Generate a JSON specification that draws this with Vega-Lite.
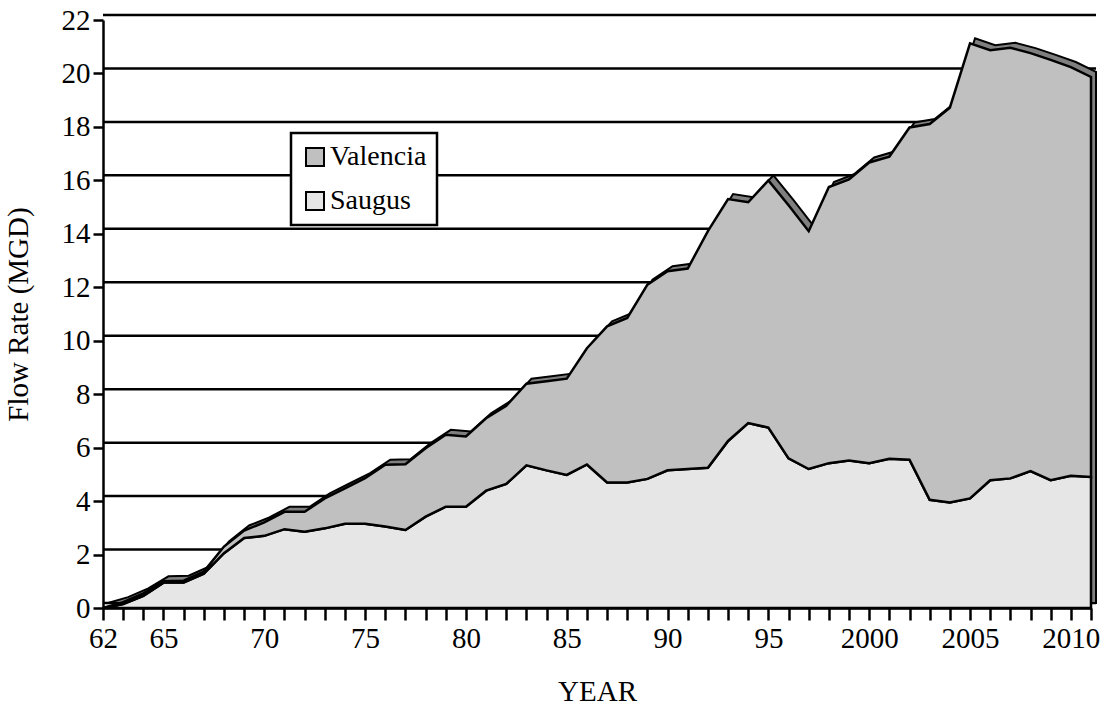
{
  "$schema": "https://vega.github.io/schema/vega-lite/v6.json",
  "width": 988,
  "height": 588,
  "autosize": {"type": "none"},
  "padding": {"left": 103, "top": 20, "right": 13, "bottom": 102},
  "background": "white",
  "config": {
    "view": {"stroke": null},
    "font": "Liberation Serif",
    "axis": {
      "grid": false, "domainColor": "black", "domainWidth": 2.5, "tickColor": "black", "tickWidth": 2.5,
      "labelFont": "Liberation Serif", "labelFontSize": 29, "labelColor": "black",
      "titleFont": "Liberation Serif", "titleFontSize": 29, "titleFontWeight": "normal", "titleColor": "black"
    },
    "axisX": {"labelOverlap": false, "labelFlush": false, "labelBound": false, "tickSize": 12, "labelPadding": 4, "titlePadding": 24},
    "axisY": {"tickSize": 10, "labelPadding": 3, "titlePadding": 28}
  },
  "datasets": {
    "grid": [{"v": 0}, {"v": 2}, {"v": 4}, {"v": 6}, {"v": 8}, {"v": 10}, {"v": 12}, {"v": 14}, {"v": 16}, {"v": 18}, {"v": 20}, {"v": 22}],
    "flow": [
      {"year": 1962, "series": "Saugus", "value": 0}, {"year": 1962, "series": "Valencia", "value": 0},
      {"year": 1963, "series": "Saugus", "value": 0.15}, {"year": 1963, "series": "Valencia", "value": 0.07},
      {"year": 1964, "series": "Saugus", "value": 0.45}, {"year": 1964, "series": "Valencia", "value": 0.10},
      {"year": 1965, "series": "Saugus", "value": 0.95}, {"year": 1965, "series": "Valencia", "value": 0.05},
      {"year": 1966, "series": "Saugus", "value": 0.95}, {"year": 1966, "series": "Valencia", "value": 0.07},
      {"year": 1967, "series": "Saugus", "value": 1.28}, {"year": 1967, "series": "Valencia", "value": 0.08},
      {"year": 1968, "series": "Saugus", "value": 2.05}, {"year": 1968, "series": "Valencia", "value": 0.25},
      {"year": 1969, "series": "Saugus", "value": 2.62}, {"year": 1969, "series": "Valencia", "value": 0.28},
      {"year": 1970, "series": "Saugus", "value": 2.70}, {"year": 1970, "series": "Valencia", "value": 0.50},
      {"year": 1971, "series": "Saugus", "value": 2.95}, {"year": 1971, "series": "Valencia", "value": 0.65},
      {"year": 1972, "series": "Saugus", "value": 2.85}, {"year": 1972, "series": "Valencia", "value": 0.75},
      {"year": 1973, "series": "Saugus", "value": 2.98}, {"year": 1973, "series": "Valencia", "value": 1.12},
      {"year": 1974, "series": "Saugus", "value": 3.15}, {"year": 1974, "series": "Valencia", "value": 1.33},
      {"year": 1975, "series": "Saugus", "value": 3.15}, {"year": 1975, "series": "Valencia", "value": 1.71},
      {"year": 1976, "series": "Saugus", "value": 3.05}, {"year": 1976, "series": "Valencia", "value": 2.31},
      {"year": 1977, "series": "Saugus", "value": 2.92}, {"year": 1977, "series": "Valencia", "value": 2.46},
      {"year": 1978, "series": "Saugus", "value": 3.42}, {"year": 1978, "series": "Valencia", "value": 2.56},
      {"year": 1979, "series": "Saugus", "value": 3.79}, {"year": 1979, "series": "Valencia", "value": 2.69},
      {"year": 1980, "series": "Saugus", "value": 3.79}, {"year": 1980, "series": "Valencia", "value": 2.63},
      {"year": 1981, "series": "Saugus", "value": 4.39}, {"year": 1981, "series": "Valencia", "value": 2.71},
      {"year": 1982, "series": "Saugus", "value": 4.64}, {"year": 1982, "series": "Valencia", "value": 2.93},
      {"year": 1983, "series": "Saugus", "value": 5.34}, {"year": 1983, "series": "Valencia", "value": 3.05},
      {"year": 1984, "series": "Saugus", "value": 5.15}, {"year": 1984, "series": "Valencia", "value": 3.33},
      {"year": 1985, "series": "Saugus", "value": 4.98}, {"year": 1985, "series": "Valencia", "value": 3.60},
      {"year": 1986, "series": "Saugus", "value": 5.37}, {"year": 1986, "series": "Valencia", "value": 4.35},
      {"year": 1987, "series": "Saugus", "value": 4.70}, {"year": 1987, "series": "Valencia", "value": 5.84},
      {"year": 1988, "series": "Saugus", "value": 4.70}, {"year": 1988, "series": "Valencia", "value": 6.15},
      {"year": 1989, "series": "Saugus", "value": 4.83}, {"year": 1989, "series": "Valencia", "value": 7.27},
      {"year": 1990, "series": "Saugus", "value": 5.15}, {"year": 1990, "series": "Valencia", "value": 7.45},
      {"year": 1991, "series": "Saugus", "value": 5.20}, {"year": 1991, "series": "Valencia", "value": 7.50},
      {"year": 1992, "series": "Saugus", "value": 5.25}, {"year": 1992, "series": "Valencia", "value": 8.85},
      {"year": 1993, "series": "Saugus", "value": 6.25}, {"year": 1993, "series": "Valencia", "value": 9.05},
      {"year": 1994, "series": "Saugus", "value": 6.92}, {"year": 1994, "series": "Valencia", "value": 8.26},
      {"year": 1995, "series": "Saugus", "value": 6.75}, {"year": 1995, "series": "Valencia", "value": 9.25},
      {"year": 1996, "series": "Saugus", "value": 5.60}, {"year": 1996, "series": "Valencia", "value": 9.47},
      {"year": 1997, "series": "Saugus", "value": 5.20}, {"year": 1997, "series": "Valencia", "value": 8.90},
      {"year": 1998, "series": "Saugus", "value": 5.42}, {"year": 1998, "series": "Valencia", "value": 10.33},
      {"year": 1999, "series": "Saugus", "value": 5.52}, {"year": 1999, "series": "Valencia", "value": 10.52},
      {"year": 2000, "series": "Saugus", "value": 5.42}, {"year": 2000, "series": "Valencia", "value": 11.25},
      {"year": 2001, "series": "Saugus", "value": 5.58}, {"year": 2001, "series": "Valencia", "value": 11.31},
      {"year": 2002, "series": "Saugus", "value": 5.55}, {"year": 2002, "series": "Valencia", "value": 12.43},
      {"year": 2003, "series": "Saugus", "value": 4.05}, {"year": 2003, "series": "Valencia", "value": 14.06},
      {"year": 2004, "series": "Saugus", "value": 3.95}, {"year": 2004, "series": "Valencia", "value": 14.77},
      {"year": 2005, "series": "Saugus", "value": 4.10}, {"year": 2005, "series": "Valencia", "value": 17.03},
      {"year": 2006, "series": "Saugus", "value": 4.78}, {"year": 2006, "series": "Valencia", "value": 16.09},
      {"year": 2007, "series": "Saugus", "value": 4.85}, {"year": 2007, "series": "Valencia", "value": 16.11},
      {"year": 2008, "series": "Saugus", "value": 5.12}, {"year": 2008, "series": "Valencia", "value": 15.64},
      {"year": 2009, "series": "Saugus", "value": 4.78}, {"year": 2009, "series": "Valencia", "value": 15.73},
      {"year": 2010, "series": "Saugus", "value": 4.95}, {"year": 2010, "series": "Valencia", "value": 15.29},
      {"year": 2011, "series": "Saugus", "value": 4.90}, {"year": 2011, "series": "Valencia", "value": 14.97}
    ]
  },
  "layer": [
    {
      "data": {"name": "grid"},
      "mark": {"type": "rule", "color": "black", "strokeWidth": 2.5, "xOffset": 5, "yOffset": -5},
      "encoding": {
        "y": {
          "field": "v", "type": "quantitative",
          "scale": {"domain": [0, 22], "nice": false, "zero": true},
          "axis": {"values": [0, 2, 4, 6, 8, 10, 12, 14, 16, 18, 20, 22], "title": "Flow Rate (MGD)"}
        }
      }
    },
    {
      "data": {"name": "flow"},
      "transform": [
        {"stack": "value", "groupby": ["year"], "sort": [{"field": "series", "order": "ascending"}], "as": ["y0", "y1"]},
        {"filter": "datum.series === 'Valencia'"}
      ],
      "mark": {"type": "area", "fill": "#7f7f7f", "stroke": "black", "strokeWidth": 2, "xOffset": 5, "yOffset": -5, "y2Offset": -5},
      "encoding": {
        "x": {
          "field": "year", "type": "quantitative",
          "scale": {"domain": [1962, 2011], "nice": false, "zero": false},
          "axis": {
            "values": [1962, 1963, 1964, 1965, 1966, 1967, 1968, 1969, 1970, 1971, 1972, 1973, 1974, 1975, 1976, 1977, 1978, 1979, 1980, 1981, 1982, 1983, 1984, 1985, 1986, 1987, 1988, 1989, 1990, 1991, 1992, 1993, 1994, 1995, 1996, 1997, 1998, 1999, 2000, 2001, 2002, 2003, 2004, 2005, 2006, 2007, 2008, 2009, 2010, 2011],
            "labelExpr": "indexof([1962, 1965, 1970, 1975, 1980, 1985, 1990, 1995], datum.value) >= 0 ? substring(toString(datum.value), 2, 4) : (indexof([2000, 2005, 2010], datum.value) >= 0 ? toString(datum.value) : '')",
            "labelOverlap": false,
            "title": "YEAR"
          }
        },
        "y": {"field": "y1", "type": "quantitative", "axis": {"values": [0, 2, 4, 6, 8, 10, 12, 14, 16, 18, 20, 22], "title": "Flow Rate (MGD)"}},
        "y2": {"datum": 0}
      }
    },
    {
      "data": {"name": "flow"},
      "transform": [
        {"stack": "value", "groupby": ["year"], "sort": [{"field": "series", "order": "ascending"}], "as": ["y0", "y1"]}
      ],
      "mark": {"type": "area", "stroke": "black", "strokeWidth": 2.5, "strokeJoin": "miter", "fillOpacity": 1},
      "encoding": {
        "x": {
          "field": "year", "type": "quantitative",
          "scale": {"domain": [1962, 2011], "nice": false, "zero": false},
          "axis": {
            "values": [1962, 1963, 1964, 1965, 1966, 1967, 1968, 1969, 1970, 1971, 1972, 1973, 1974, 1975, 1976, 1977, 1978, 1979, 1980, 1981, 1982, 1983, 1984, 1985, 1986, 1987, 1988, 1989, 1990, 1991, 1992, 1993, 1994, 1995, 1996, 1997, 1998, 1999, 2000, 2001, 2002, 2003, 2004, 2005, 2006, 2007, 2008, 2009, 2010, 2011],
            "labelExpr": "indexof([1962, 1965, 1970, 1975, 1980, 1985, 1990, 1995], datum.value) >= 0 ? substring(toString(datum.value), 2, 4) : (indexof([2000, 2005, 2010], datum.value) >= 0 ? toString(datum.value) : '')",
            "labelOverlap": false,
            "title": "YEAR"
          }
        },
        "y": {"field": "y1", "type": "quantitative", "axis": {"values": [0, 2, 4, 6, 8, 10, 12, 14, 16, 18, 20, 22], "title": "Flow Rate (MGD)"}},
        "y2": {"field": "y0"},
        "color": {
          "field": "series", "type": "nominal",
          "scale": {"domain": ["Valencia", "Saugus"], "range": ["#c0c0c0", "#e6e6e6"]},
          "legend": {
            "title": null, "orient": "none", "legendX": 188, "legendY": 113,
            "fillColor": "white", "strokeColor": "black",
            "padding": 10, "rowPadding": 16,
            "symbolType": "square", "symbolSize": 324, "symbolStrokeColor": "black", "symbolStrokeWidth": 2,
            "symbolOpacity": 1,
            "labelFont": "Liberation Serif", "labelFontSize": 28, "labelColor": "black", "labelOffset": 1,
            "encode": {"legend": {"update": {"strokeWidth": {"value": 2.5}}}}
          }
        }
      }
    }
  ]
}
